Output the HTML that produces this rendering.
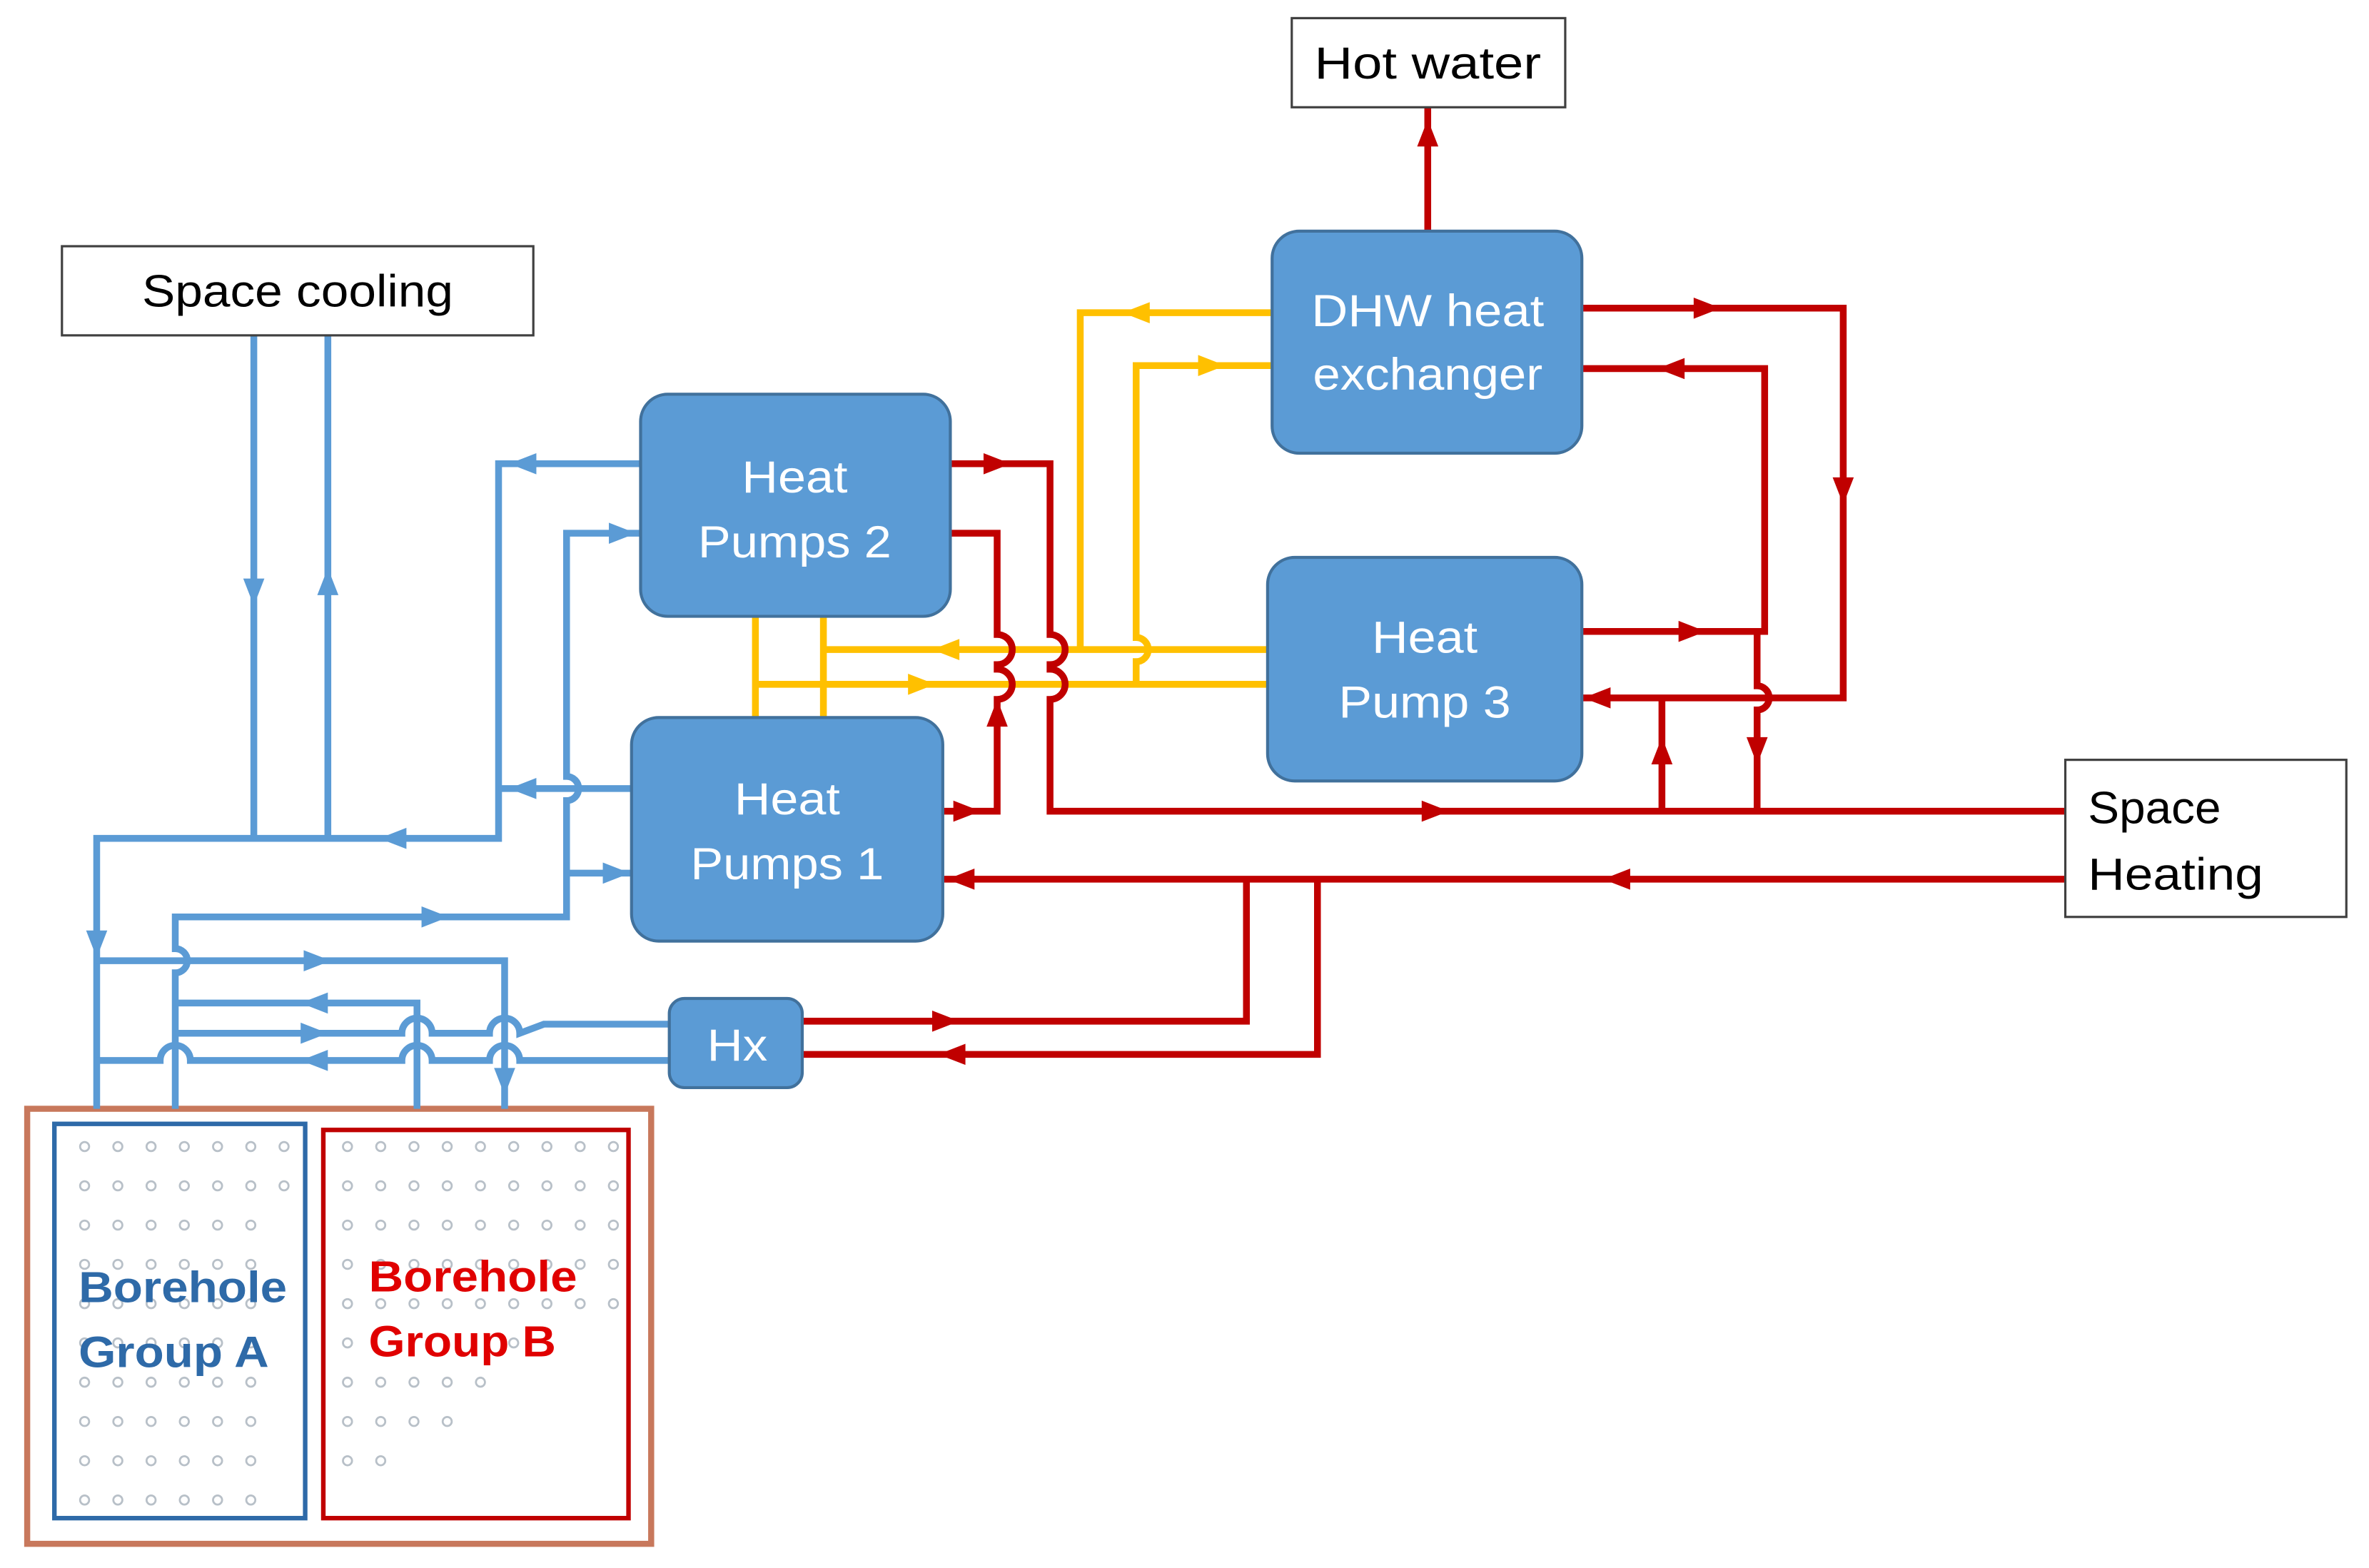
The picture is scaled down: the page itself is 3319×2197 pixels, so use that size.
<!DOCTYPE html>
<html><head><meta charset="utf-8"><style>
html,body{margin:0;padding:0;background:#fff;}
svg{display:block;}
text{font-family:"Liberation Sans",sans-serif;}
</style></head><body>
<svg width="3319" height="2197" viewBox="0 0 1568 1038" preserveAspectRatio="none" xmlns="http://www.w3.org/2000/svg">
<defs>
<path id="ar" d="M-9,-7 L9,0 L-9,7 Z"/>
</defs>
<rect width="1568" height="1038" fill="#fff"/>

<!-- Borehole area -->
<rect x="18" y="734" width="413" height="288" fill="none" stroke="#c8785c" stroke-width="4"/>
<rect x="36" y="744" width="166" height="261" fill="none" stroke="#2e6aa8" stroke-width="3"/>
<rect x="214" y="748" width="202" height="257" fill="none" stroke="#c00000" stroke-width="3"/>
<g fill="none" stroke="#b8c0c8" stroke-width="1.3">
<g id="rowA7"><circle cx="56" cy="759" r="3"/><circle cx="78" cy="759" r="3"/><circle cx="100" cy="759" r="3"/><circle cx="122" cy="759" r="3"/><circle cx="144" cy="759" r="3"/><circle cx="166" cy="759" r="3"/><circle cx="188" cy="759" r="3"/></g>
<use href="#rowA7" transform="translate(0,26)"/>
<g id="rowA6"><circle cx="56" cy="811" r="3"/><circle cx="78" cy="811" r="3"/><circle cx="100" cy="811" r="3"/><circle cx="122" cy="811" r="3"/><circle cx="144" cy="811" r="3"/><circle cx="166" cy="811" r="3"/></g>
<use href="#rowA6" transform="translate(0,26)"/>
<use href="#rowA6" transform="translate(0,52)"/>
<use href="#rowA6" transform="translate(0,78)"/>
<use href="#rowA6" transform="translate(0,104)"/>
<use href="#rowA6" transform="translate(0,130)"/>
<use href="#rowA6" transform="translate(0,156)"/>
<use href="#rowA6" transform="translate(0,182)"/>
<g id="rowB9"><circle cx="230" cy="759" r="3"/><circle cx="252" cy="759" r="3"/><circle cx="274" cy="759" r="3"/><circle cx="296" cy="759" r="3"/><circle cx="318" cy="759" r="3"/><circle cx="340" cy="759" r="3"/><circle cx="362" cy="759" r="3"/><circle cx="384" cy="759" r="3"/><circle cx="406" cy="759" r="3"/></g>
<use href="#rowB9" transform="translate(0,26)"/>
<use href="#rowB9" transform="translate(0,52)"/>
<use href="#rowB9" transform="translate(0,78)"/>
<use href="#rowB9" transform="translate(0,104)"/>
<circle cx="230" cy="889" r="3"/><circle cx="340" cy="889" r="3"/>
<circle cx="230" cy="915" r="3"/><circle cx="252" cy="915" r="3"/><circle cx="274" cy="915" r="3"/><circle cx="296" cy="915" r="3"/><circle cx="318" cy="915" r="3"/>
<circle cx="230" cy="941" r="3"/><circle cx="252" cy="941" r="3"/><circle cx="274" cy="941" r="3"/><circle cx="296" cy="941" r="3"/>
<circle cx="230" cy="967" r="3"/><circle cx="252" cy="967" r="3"/>
</g>
<g font-weight="bold" font-size="29">
<text x="52" y="862" fill="#2e6aa8" textLength="138" lengthAdjust="spacingAndGlyphs">Borehole</text>
<text x="52" y="905" fill="#2e6aa8" textLength="126" lengthAdjust="spacingAndGlyphs">Group A</text>
<text x="244" y="855" fill="#e00000" textLength="138" lengthAdjust="spacingAndGlyphs">Borehole</text>
<text x="244" y="898" fill="#e00000" textLength="124" lengthAdjust="spacingAndGlyphs">Group B</text>
</g>

<!-- Blue pipes -->
<g fill="none" stroke="#5b9bd5" stroke-width="4.5" stroke-linejoin="miter">
<path d="M168,222 V555"/>
<path d="M217,222 V555"/>
<path d="M64,734 V555 H330 V307 H424"/>
<path d="M418,522 H330"/>
<path d="M424,353 H375 V514 A8,8 0 0 1 375,530 V607 H116 V628 A8,8 0 0 1 116,644 V734"/>
<path d="M375,578 H418"/>
<path d="M64,636 H334 V734"/>
<path d="M116,664 H276 V734"/>
<path d="M116,684 H266 A10,10 0 0 1 286,684 H324 A10,10 0 0 1 344,684 L360,678 H443"/>
<path d="M64,702 H106 A10,10 0 0 1 126,702 H266 A10,10 0 0 1 286,702 H324 A10,10 0 0 1 344,702 H443"/>
</g>
<g fill="#5b9bd5">
<use href="#ar" transform="translate(168,392) rotate(90)"/>
<use href="#ar" transform="translate(217,385) rotate(-90)"/>
<use href="#ar" transform="translate(260,555) rotate(180)"/>
<use href="#ar" transform="translate(346,307) rotate(180)"/>
<use href="#ar" transform="translate(346,522) rotate(180)"/>
<use href="#ar" transform="translate(412,353)"/>
<use href="#ar" transform="translate(408,578)"/>
<use href="#ar" transform="translate(288,607)"/>
<use href="#ar" transform="translate(64,625) rotate(90)"/>
<use href="#ar" transform="translate(210,636)"/>
<use href="#ar" transform="translate(208,664) rotate(180)"/>
<use href="#ar" transform="translate(208,684)"/>
<use href="#ar" transform="translate(208,702) rotate(180)"/>
<use href="#ar" transform="translate(334,716) rotate(90)"/>
</g>

<!-- Yellow pipes -->
<g fill="none" stroke="#ffc000" stroke-width="4.5">
<path d="M842,207 H715 V430"/>
<path d="M842,242 H752 V422 A8,8 0 0 1 752,438 V453"/>
<path d="M839,430 H545"/>
<path d="M500,453 H839"/>
<path d="M500,408 V475 M545,408 V475"/>
</g>
<g fill="#ffc000">
<use href="#ar" transform="translate(752,207) rotate(180)"/>
<use href="#ar" transform="translate(802,242)"/>
<use href="#ar" transform="translate(626,430) rotate(180)"/>
<use href="#ar" transform="translate(610,453)"/>
</g>

<!-- Red pipes -->
<g fill="none" stroke="#c00000" stroke-width="4.5">
<path d="M945,153 V71"/>
<path d="M1047,204 H1220 V462 H1047"/>
<path d="M1047,244 H1168 V418 H1047"/>
<path d="M1163,418 V454 A8,8 0 0 1 1163,470 V537"/>
<path d="M1100,537 V462"/>
<path d="M629,307 H695 V420 A10,10 0 0 1 695,440 V443 A10,10 0 0 1 695,463 V537 H1367"/>
<path d="M629,353 H660 V420 A10,10 0 0 1 660,440 V443 A10,10 0 0 1 660,463 V537 H624"/>
<path d="M1367,582 H624"/>
<path d="M825,582 V676 H531"/>
<path d="M872,582 V698 H531"/>
</g>
<g fill="#c00000">
<use href="#ar" transform="translate(945,88) rotate(-90)"/>
<use href="#ar" transform="translate(1130,204)"/>
<use href="#ar" transform="translate(1220,325) rotate(90)"/>
<use href="#ar" transform="translate(1057,462) rotate(180)"/>
<use href="#ar" transform="translate(1106,244) rotate(180)"/>
<use href="#ar" transform="translate(1120,418)"/>
<use href="#ar" transform="translate(1163,497) rotate(90)"/>
<use href="#ar" transform="translate(1100,497) rotate(-90)"/>
<use href="#ar" transform="translate(660,307)"/>
<use href="#ar" transform="translate(660,472) rotate(-90)"/>
<use href="#ar" transform="translate(640,537)"/>
<use href="#ar" transform="translate(950,537)"/>
<use href="#ar" transform="translate(1070,582) rotate(180)"/>
<use href="#ar" transform="translate(636,582) rotate(180)"/>
<use href="#ar" transform="translate(626,676)"/>
<use href="#ar" transform="translate(630,698) rotate(180)"/>
</g>

<!-- Boxes -->
<g fill="#5b9bd5" stroke="#41719c" stroke-width="2">
<rect x="842" y="153" width="205" height="147" rx="18"/>
<rect x="424" y="261" width="205" height="147" rx="18"/>
<rect x="418" y="475" width="206" height="148" rx="18"/>
<rect x="839" y="369" width="208" height="148" rx="18"/>
<rect x="443" y="661" width="88" height="59" rx="10"/>
</g>
<g fill="#fff" font-size="30" text-anchor="middle">
<text x="945" y="216" textLength="154" lengthAdjust="spacingAndGlyphs">DHW heat</text>
<text x="945" y="258" textLength="152" lengthAdjust="spacingAndGlyphs">exchanger</text>
<text x="526" y="326" textLength="70" lengthAdjust="spacingAndGlyphs">Heat</text>
<text x="526" y="369" textLength="128" lengthAdjust="spacingAndGlyphs">Pumps 2</text>
<text x="521" y="539" textLength="70" lengthAdjust="spacingAndGlyphs">Heat</text>
<text x="521" y="582" textLength="128" lengthAdjust="spacingAndGlyphs">Pumps 1</text>
<text x="943" y="432" textLength="70" lengthAdjust="spacingAndGlyphs">Heat</text>
<text x="943" y="475" textLength="114" lengthAdjust="spacingAndGlyphs">Pump 3</text>
<text x="488" y="702" textLength="40" lengthAdjust="spacingAndGlyphs">Hx</text>
</g>

<!-- Label boxes -->
<g fill="#fff" stroke="#404040" stroke-width="1.5">
<rect x="855" y="12" width="181" height="59"/>
<rect x="41" y="163" width="312" height="59"/>
<rect x="1367" y="503" width="186" height="104"/>
</g>
<g fill="#000" font-size="30">
<text x="945" y="52" text-anchor="middle" textLength="150" lengthAdjust="spacingAndGlyphs">Hot water</text>
<text x="197" y="203" text-anchor="middle" textLength="206" lengthAdjust="spacingAndGlyphs">Space cooling</text>
<text x="1382" y="545" textLength="88" lengthAdjust="spacingAndGlyphs">Space</text>
<text x="1382" y="589" textLength="116" lengthAdjust="spacingAndGlyphs">Heating</text>
</g>
</svg>
</body></html>
